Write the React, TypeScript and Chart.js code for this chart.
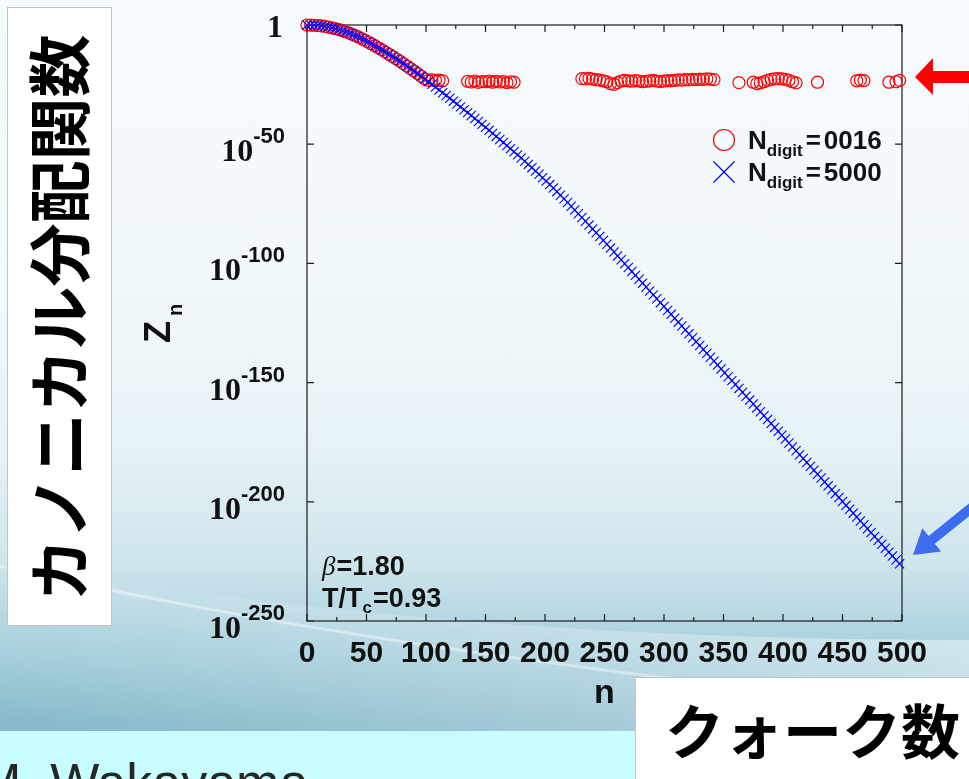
import React, { useEffect, useRef } from 'react';
import { Chart, registerables } from 'chart.js';

Chart.register(...registerables);

// quark number n (multiples of 3)
const nBlue = [
  0, 3, 6, 9, 12, 15, 18, 21, 24, 27,
  30, 33, 36, 39, 42, 45, 48, 51, 54, 57,
  60, 63, 66, 69, 72, 75, 78, 81, 84, 87,
  90, 93, 96, 99, 102, 105, 108, 111, 114, 117,
  120, 123, 126, 129, 132, 135, 138, 141, 144, 147,
  150, 153, 156, 159, 162, 165, 168, 171, 174, 177,
  180, 183, 186, 189, 192, 195, 198, 201, 204, 207,
  210, 213, 216, 219, 222, 225, 228, 231, 234, 237,
  240, 243, 246, 249, 252, 255, 258, 261, 264, 267,
  270, 273, 276, 279, 282, 285, 288, 291, 294, 297,
  300, 303, 306, 309, 312, 315, 318, 321, 324, 327,
  330, 333, 336, 339, 342, 345, 348, 351, 354, 357,
  360, 363, 366, 369, 372, 375, 378, 381, 384, 387,
  390, 393, 396, 399, 402, 405, 408, 411, 414, 417,
  420, 423, 426, 429, 432, 435, 438, 441, 444, 447,
  450, 453, 456, 459, 462, 465, 468, 471, 474, 477,
  480, 483, 486, 489, 492, 495, 498,
];

// log10 Z_n for N_digit = 5000
const log10Blue = [
  0, -0.02, -0.1, -0.22, -0.39, -0.61, -0.87, -1.19, -1.56, -1.97,
  -2.43, -2.94, -3.5, -4.11, -4.76, -5.47, -6.22, -7.02, -7.85, -8.69,
  -9.56, -10.45, -11.35, -12.28, -13.22, -14.19, -15.17, -16.18, -17.2, -18.25,
  -19.31, -20.39, -21.5, -22.62, -23.76, -24.91, -26.06, -27.23, -28.39, -29.57,
  -30.75, -31.94, -33.13, -34.34, -35.54, -36.76, -37.98, -39.21, -40.45, -41.69,
  -42.94, -44.19, -45.46, -46.73, -48.0, -49.28, -50.57, -51.87, -53.17, -54.48,
  -55.8, -57.13, -58.48, -59.84, -61.22, -62.63, -64.04, -65.48, -66.94, -68.41,
  -69.9, -71.41, -72.94, -74.48, -76.04, -77.61, -79.18, -80.76, -82.34, -83.93,
  -85.53, -87.13, -88.73, -90.34, -91.96, -93.58, -95.21, -96.85, -98.48, -100.12,
  -101.75, -103.39, -105.02, -106.66, -108.29, -109.93, -111.56, -113.2, -114.83, -116.47,
  -118.1, -119.74, -121.37, -123.01, -124.64, -126.28, -127.91, -129.55, -131.18, -132.82,
  -134.45, -136.09, -137.72, -139.36, -140.99, -142.63, -144.26, -145.9, -147.53, -149.17,
  -150.8, -152.44, -154.07, -155.71, -157.34, -158.98, -160.61, -162.25, -163.88, -165.52,
  -167.15, -168.79, -170.42, -172.06, -173.69, -175.33, -176.96, -178.6, -180.23, -181.87,
  -183.5, -185.14, -186.77, -188.41, -190.04, -191.68, -193.31, -194.95, -196.58, -198.22,
  -199.85, -201.49, -203.12, -204.76, -206.39, -208.03, -209.66, -211.3, -212.93, -214.57,
  -216.2, -217.84, -219.47, -221.11, -222.74, -224.38, -226.01,
];

// N_digit = 0016 (points where Z_n is positive)
const nRed = [
  0, 3, 6, 9, 12, 15, 18, 21, 24, 27,
  30, 33, 36, 39, 42, 45, 48, 51, 54, 57,
  60, 63, 66, 69, 72, 75, 78, 81, 84, 87,
  90, 93, 96, 99,
  102, 105, 108, 111, 114,
  135, 138, 141, 144, 147, 150, 153, 156, 159, 162, 165, 168, 171, 174,
  231, 234, 237, 240, 243, 246, 249, 252, 255, 258,
  261, 264, 267, 270, 273, 276, 279, 282, 285, 288,
  291, 294, 297, 300, 303, 306, 309, 312, 315, 318,
  321, 324, 327, 330, 333, 336, 339, 342,
  363,
  375, 378, 381, 384, 387, 390, 393, 396, 399, 402, 405, 408, 411,
  429,
  462, 465, 468,
  489, 495, 498,
];

const log10Red = [
  0, -0.02, -0.1, -0.22, -0.39, -0.61, -0.87, -1.19, -1.56, -1.97,
  -2.43, -2.94, -3.5, -4.11, -4.76, -5.47, -6.22, -7.02, -7.85, -8.69,
  -9.56, -10.45, -11.35, -12.28, -13.22, -14.19, -15.17, -16.18, -17.2, -18.25,
  -19.31, -20.39, -21.5, -22.62,
  -23.2, -23.0, -23.3, -23.1, -23.4,
  -23.6, -23.9, -23.5, -24.1, -23.7, -23.8, -23.5, -24.0, -23.6, -23.9, -23.7, -24.2, -23.8, -24.0,
  -22.5, -22.6, -22.4, -22.7, -22.9, -23.1, -23.4, -23.8, -24.6, -24.9,
  -24.2, -23.5, -23.2, -23.4, -23.6, -23.3, -23.5, -23.8, -23.6, -23.4,
  -23.2, -23.5, -23.7, -23.5, -23.3, -23.4, -23.2, -23.0, -23.1, -22.9,
  -23.0, -22.8, -22.9, -22.7, -22.8, -22.6, -22.7, -22.9,
  -24.2,
  -24.0, -24.6, -24.3, -23.8, -23.2, -22.8, -22.6, -22.5, -22.6, -22.8, -23.2, -23.8, -24.3,
  -24.0,
  -23.4, -23.1, -23.3,
  -24.0, -23.8, -23.2,
];

const xTickValues = [0, 50, 100, 150, 200, 250, 300, 350, 400, 450, 500];
const xMinorTickValues = [25, 75, 125, 175, 225, 275, 325, 375, 425, 475];
const yTickExponents = [0, -50, -100, -150, -200, -250];
const yTickBase = ['1', '10', '10', '10', '10', '10'];
const yTickSup = ['', '-50', '-100', '-150', '-200', '-250'];

const legendItems = [
  { main: 'N', sub: 'digit', value: '0016', color: '#ff0000', marker: 'circle' },
  { main: 'N', sub: 'digit', value: '5000', color: '#0000ff', marker: 'cross' },
];

const SANS = '"Liberation Sans", Arial, sans-serif';
const SERIF = '"Liberation Serif", "Times New Roman", serif';

const decorPlugin = {
  id: 'decor',
  beforeDatasetsDraw(chart: any) {
    const { ctx, chartArea: a, scales } = chart;
    const xs = scales.x;
    const ys = scales.y;
    ctx.save();
    ctx.strokeStyle = '#1c1c1c';
    ctx.lineWidth = 1.2;
    ctx.strokeRect(a.left, a.top, a.right - a.left, a.bottom - a.top);
    ctx.beginPath();
    for (const v of xTickValues) {
      const px = xs.getPixelForValue(v);
      ctx.moveTo(px, a.bottom);
      ctx.lineTo(px, a.bottom - 7);
      ctx.moveTo(px, a.top);
      ctx.lineTo(px, a.top + 7);
    }
    for (const v of xMinorTickValues) {
      const px = xs.getPixelForValue(v);
      ctx.moveTo(px, a.bottom);
      ctx.lineTo(px, a.bottom - 4);
      ctx.moveTo(px, a.top);
      ctx.lineTo(px, a.top + 4);
    }
    for (const e of yTickExponents) {
      const py = ys.getPixelForValue(Math.pow(10, e));
      ctx.moveTo(a.left, py);
      ctx.lineTo(a.left + 7, py);
      ctx.moveTo(a.right, py);
      ctx.lineTo(a.right - 7, py);
    }
    ctx.stroke();
    ctx.restore();
  },
  afterDraw(chart: any) {
    const { ctx, chartArea: a, scales } = chart;
    const ys = scales.y;
    ctx.save();
    ctx.fillStyle = '#111';
    ctx.textBaseline = 'alphabetic';

    // y tick labels 10^k
    const xr = a.left - 22;
    yTickExponents.forEach((e, i) => {
      const py = ys.getPixelForValue(Math.pow(10, e));
      const sup = yTickSup[i];
      if (!sup) {
        ctx.font = `bold 32px ${SERIF}`;
        ctx.textAlign = 'right';
        ctx.fillText(yTickBase[i], xr - 2, py + 12);
      } else {
        ctx.font = `bold 22px ${SANS}`;
        const w = ctx.measureText(sup).width;
        ctx.textAlign = 'left';
        ctx.fillText(sup, xr - w, py - 1);
        ctx.font = `bold 32px ${SERIF}`;
        ctx.textAlign = 'right';
        ctx.fillText(yTickBase[i], xr - w, py + 17);
      }
    });

    // y-axis title Z_n
    ctx.save();
    const cy = (a.top + a.bottom) / 2;
    ctx.translate(170, cy + 20);
    ctx.rotate(-Math.PI / 2);
    ctx.textAlign = 'left';
    ctx.font = `bold 36px ${SANS}`;
    ctx.fillText('Z', 0, 0);
    const zw = ctx.measureText('Z').width;
    ctx.font = `bold 20px ${SANS}`;
    ctx.fillText('n', zw + 5, 12);
    ctx.restore();

    // legend
    ctx.textAlign = 'left';
    legendItems.forEach((it, i) => {
      const my = a.top + 115 + i * 32;
      const mx = a.right - 178;
      ctx.strokeStyle = it.color;
      ctx.lineWidth = 1.2;
      ctx.beginPath();
      if (it.marker === 'circle') {
        ctx.arc(mx, my, 10.5, 0, Math.PI * 2);
      } else {
        ctx.moveTo(mx - 10.5, my - 10.5);
        ctx.lineTo(mx + 10.5, my + 10.5);
        ctx.moveTo(mx + 10.5, my - 10.5);
        ctx.lineTo(mx - 10.5, my + 10.5);
      }
      ctx.stroke();
      let x = a.right - 154;
      const base = my + 9;
      ctx.font = `bold 26px ${SANS}`;
      ctx.fillText(it.main, x, base);
      x += ctx.measureText(it.main).width;
      ctx.font = `bold 17px ${SANS}`;
      ctx.fillText(it.sub, x, base + 7);
      x += ctx.measureText(it.sub).width + 3;
      ctx.font = `bold 26px ${SANS}`;
      ctx.fillText('=', x, base);
      x += ctx.measureText('=').width + 3;
      ctx.fillText(it.value, x, base);
    });

    // annotation beta, T/Tc
    let x = a.left + 15;
    ctx.font = `italic 27px ${SERIF}`;
    ctx.fillText('\u03b2', x, a.bottom - 46);
    x += ctx.measureText('\u03b2').width + 1;
    ctx.font = `bold 27px ${SANS}`;
    ctx.fillText('=1.80', x, a.bottom - 46);

    x = a.left + 15;
    ctx.fillText('T/T', x, a.bottom - 14);
    x += ctx.measureText('T/T').width;
    ctx.font = `bold 17px ${SANS}`;
    ctx.fillText('c', x, a.bottom - 8);
    x += ctx.measureText('c').width + 1;
    ctx.font = `bold 27px ${SANS}`;
    ctx.fillText('=0.93', x, a.bottom - 14);

    ctx.restore();
  },
};

export default function App() {
  const ref = useRef<HTMLCanvasElement>(null);

  useEffect(() => {
    const canvas = ref.current;
    if (!canvas) return;
    const chart = new Chart(canvas, {
      type: 'scatter',
      data: {
        datasets: [
          {
            label: 'N_digit=5000',
            data: nBlue.map((n, i) => ({ x: n, y: Math.pow(10, log10Blue[i]) })),
            showLine: false,
            pointStyle: 'crossRot',
            pointRadius: 6.5,
            pointBorderWidth: 1.1,
            pointBorderColor: '#0000ff',
            borderColor: '#0000ff',
            backgroundColor: 'rgba(0,0,0,0)',
            pointBackgroundColor: 'rgba(0,0,0,0)',
            clip: false,
            order: 0,
          },
          {
            label: 'N_digit=0016',
            data: nRed.map((n, i) => ({ x: n, y: Math.pow(10, log10Red[i]) })),
            showLine: false,
            pointStyle: 'circle',
            pointRadius: 6,
            pointBorderWidth: 1.2,
            pointBorderColor: '#ff0000',
            borderColor: '#ff0000',
            backgroundColor: 'rgba(0,0,0,0)',
            pointBackgroundColor: 'rgba(0,0,0,0)',
            clip: false,
            order: 1,
          },
        ],
      },
      options: {
        animation: false,
        responsive: false,
        devicePixelRatio: 1,
        events: [],
        layout: { padding: { left: 0, right: 67, top: 25, bottom: 0 } },
        plugins: {
          legend: { display: false },
          tooltip: { enabled: false },
          title: { display: false },
        },
        scales: {
          x: {
            type: 'linear',
            min: 0,
            max: 500,
            afterBuildTicks: (s: any) => {
              s.ticks = xTickValues.map((v) => ({ value: v }));
            },
            afterFit: (s: any) => {
              s.height = 158;
            },
            grid: { display: false, drawTicks: false },
            border: { display: false },
            ticks: {
              autoSkip: false,
              maxRotation: 0,
              padding: 15,
              color: '#111',
              font: { family: SANS, weight: 'bold', size: 30 },
            },
            title: {
              display: true,
              text: 'n',
              color: '#111',
              font: { family: SANS, weight: 'bold', size: 34 },
              padding: { top: 0, bottom: 65 },
            },
          },
          y: {
            type: 'logarithmic',
            min: 1e-250,
            max: 1,
            afterBuildTicks: (s: any) => {
              s.ticks = yTickExponents.map((e) => ({ value: Math.pow(10, e) }));
            },
            afterFit: (s: any) => {
              s.width = 307;
            },
            grid: { display: false, drawTicks: false },
            border: { display: false },
            ticks: { display: false },
          },
        },
      },
      plugins: [decorPlugin],
    } as any);
    return () => chart.destroy();
  }, []);

  return (
    <div
      style={{
        position: 'fixed',
        left: 0,
        top: 0,
        width: 969,
        height: 779,
        overflow: 'hidden',
        background:
          'linear-gradient(180deg, #f6fbfd 0%, #f1f8fb 38%, #e6f2f6 58%, #cfe5ec 72%, #a6cfdc 84%, #86b9ca 93%, #7fb3c5 100%)',
      }}
    >
      <svg
        width={969}
        height={779}
        style={{ position: 'absolute', left: 0, top: 0 }}
      >
        <defs>
          <linearGradient id="sheen" x1="0" y1="0" x2="1" y2="0">
            <stop offset="0" stopColor="#ffffff" stopOpacity="0" />
            <stop offset="0.6" stopColor="#ffffff" stopOpacity="0.25" />
            <stop offset="1" stopColor="#ffffff" stopOpacity="0.45" />
          </linearGradient>
        </defs>
        <path d="M0,560 Q420,640 969,640 L969,731 L0,731 Z" fill="url(#sheen)" />
        <path d="M0,566 Q360,650 969,712" fill="none" stroke="#ffffff" strokeOpacity="0.4" strokeWidth="3" />
      </svg>

      <div
        style={{
          position: 'absolute',
          left: 0,
          top: 731,
          width: 969,
          height: 48,
          background: '#c8fefe',
        }}
      />
      <div
        style={{
          position: 'absolute',
          left: -22,
          top: 756,
          fontFamily: SANS,
          fontSize: 52,
          lineHeight: '52px',
          color: '#262626',
          whiteSpace: 'nowrap',
        }}
      >
        M. Wakayama
      </div>

      <canvas
        ref={ref}
        width={969}
        height={779}
        style={{ position: 'absolute', left: 0, top: 0, width: 969, height: 779 }}
      />

      <div
        style={{
          position: 'absolute',
          left: 7,
          top: 7,
          width: 105,
          height: 619,
          background: '#ffffff',
          border: '1px solid #c4c4c4',
          boxSizing: 'border-box',
        }}
      />
      <div
        style={{
          position: 'absolute',
          left: 56 - 320,
          top: 318 - 40,
          width: 640,
          height: 80,
          lineHeight: '80px',
          textAlign: 'center',
          transform: 'rotate(-90deg)',
          fontFamily: '"Noto Sans CJK JP", sans-serif',
          fontWeight: 700,
          fontSize: 63,
          color: '#000',
          whiteSpace: 'nowrap',
        }}
      >
        カノニカル分配関数
      </div>

      <div
        style={{
          position: 'absolute',
          left: 635,
          top: 677,
          width: 345,
          height: 112,
          background: '#ffffff',
          border: '1px solid #c4c4c4',
          boxSizing: 'border-box',
        }}
      />
      <div
        style={{
          position: 'absolute',
          left: 665,
          top: 694,
          height: 70,
          lineHeight: '70px',
          fontFamily: '"Noto Sans CJK JP", sans-serif',
          fontWeight: 700,
          fontSize: 59,
          color: '#000',
          whiteSpace: 'nowrap',
        }}
      >
        クォーク数
      </div>

      <svg
        width={969}
        height={779}
        style={{ position: 'absolute', left: 0, top: 0, pointerEvents: 'none' }}
      >
        <polygon
          points="915,77 933,58 933,71 969,71 969,83 933,83 933,95"
          fill="#ff0000"
        />
        <polygon
          points="913,555 941.1,551.6 934.8,543.8 986.2,502.4 980,494.6 928.6,536 922.3,528.2"
          fill="#3d6cf0"
        />
      </svg>
    </div>
  );
}
